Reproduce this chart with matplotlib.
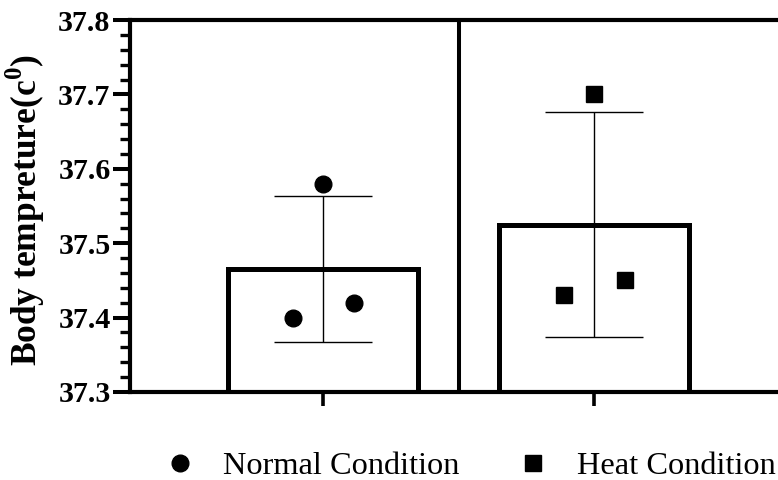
import matplotlib
matplotlib.use("Agg")
import matplotlib.pyplot as plt
import numpy as np

plt.rcParams["font.family"] = ["Liberation Serif", "DejaVu Serif"]
plt.rcParams["mathtext.fontset"] = "custom"
plt.rcParams["mathtext.rm"] = "Liberation Serif:bold"
plt.rcParams["mathtext.bf"] = "Liberation Serif:bold"

GROUPS = ["Normal Condition", "Heat Condition"]
MEANS = [37.465, 37.525]
SD = [0.098, 0.151]
POINTS = [
    [37.40, 37.58, 37.42],
    [37.43, 37.70, 37.45],
]
JITTER = [-0.11, 0.0, 0.115]
MARKERS = ["o", "s"]
YTICKS = [37.3, 37.4, 37.5, 37.6, 37.7, 37.8]

fig = plt.figure(figsize=(7.78, 4.8), dpi=100)
ax = fig.add_axes([130 / 778, 88 / 480, 648 / 778, 372 / 480])

x = np.arange(len(GROUPS))
ax.bar(x, [m - 37.3 for m in MEANS], bottom=37.3, width=0.70,
       facecolor="white", edgecolor="black", linewidth=3.6, zorder=2)
ax.errorbar(x, MEANS, yerr=SD, fmt="none", ecolor="black",
            elinewidth=1.0, capsize=35, capthick=1.0, zorder=3)

handles = []
for i, (pts, mk) in enumerate(zip(POINTS, MARKERS)):
    h, = ax.plot([i + j for j in JITTER], pts, linestyle="none", marker=mk,
                 markersize=12, color="black", zorder=4, label=GROUPS[i])
    handles.append(h)

ax.axvline(0.502, color="black", linewidth=2.9, zorder=1)

ax.set_xlim(-0.712, 1.679)
ax.set_ylim(37.3, 37.8)
ax.set_yticks(YTICKS)
ax.set_yticklabels([f"{v:.1f}" for v in YTICKS], fontsize=21.5, fontweight="bold")
ax.set_yticks(np.arange(37.3, 37.8001, 0.02), minor=True)
ax.set_xticks(x)
ax.set_xticklabels([])

ax.tick_params(axis="y", which="major", length=12, width=2.9, pad=2)
ax.tick_params(axis="y", which="minor", length=7, width=2.4)
ax.tick_params(axis="x", which="major", length=10, width=2.6)

for side in ["left", "bottom", "top"]:
    ax.spines[side].set_linewidth(3.0)
ax.spines["right"].set_visible(False)

ax.set_ylabel("Body tempreture(c$^{0}$)", fontsize=25.5, fontweight="bold")
ax.yaxis.set_label_coords(-0.128, 0.49)

fig.legend(handles=handles, loc="center", bbox_to_anchor=(0.6035, 0.028), ncol=2,
           frameon=False, fontsize=23.3, handletextpad=0.85, columnspacing=1.76,
           handlelength=1.0, borderpad=0.0)

fig.savefig("out.png", dpi=100)
